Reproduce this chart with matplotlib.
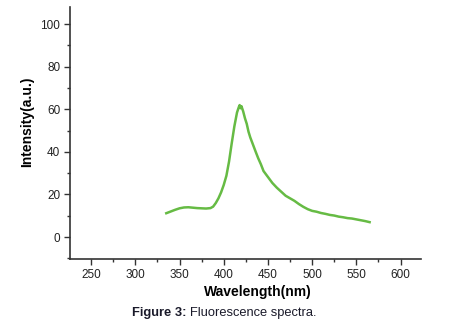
import matplotlib
matplotlib.use("Agg")
import matplotlib.pyplot as plt
from matplotlib.ticker import MultipleLocator

plt.rcParams['font.family'] = ['Liberation Sans', 'DejaVu Sans']

# emission spectrum, wavelength in nm
wavelength = [335, 340, 345, 350, 355, 360, 365, 370, 375, 380, 385, 388,
              391, 394, 397, 400, 403, 406, 409, 412, 415, 417, 418, 419,
              420, 422, 424, 426, 428, 430, 433, 436, 439, 442, 445, 450,
              455, 460, 465, 470, 475, 480, 485, 490, 495, 500, 505, 510,
              515, 520, 525, 530, 535, 540, 545, 550, 555, 560, 565]
intensity = [11.2, 12.0, 12.8, 13.5, 13.9, 14.0, 13.8, 13.6, 13.5, 13.4, 13.6, 14.3,
             16.0, 18.2, 21.0, 24.5, 28.8, 35.5, 44.0, 52.0, 58.5, 61.0, 62.0, 60.5,
             61.5, 59.0, 55.8, 53.2, 49.5, 46.8, 43.5, 40.2, 37.0, 34.2, 31.0, 28.2,
             25.4, 23.2, 21.3, 19.4, 18.2, 17.0, 15.5, 14.2, 13.1, 12.3, 11.9, 11.3,
             10.9, 10.4, 10.1, 9.6, 9.3, 8.9, 8.7, 8.3, 7.9, 7.5, 7.0]

xticks = [250, 300, 350, 400, 450, 500, 550, 600]
yticks = [0, 20, 40, 60, 80, 100]

fig = plt.figure(figsize=(4.57, 3.34), dpi=100)
ax = fig.add_axes([0.153, 0.2246, 0.768, 0.754])

ax.plot(wavelength, intensity, color="#66bb44", lw=1.8)

ax.set_xlim(226, 623)
ax.set_ylim(-10.3, 108)
ax.set_xticks(xticks)
ax.set_yticks(yticks)
ax.xaxis.set_minor_locator(MultipleLocator(25))
ax.yaxis.set_minor_locator(MultipleLocator(10))

for side in ("top", "right"):
    ax.spines[side].set_visible(False)
for side in ("left", "bottom"):
    ax.spines[side].set_color("#333333")
    ax.spines[side].set_linewidth(1.2)

ax.tick_params(which="major", length=4, width=1, color="#333333",
               labelsize=8.5, labelcolor="#222222", pad=3)
ax.tick_params(which="minor", length=2.5, width=1, color="#333333")

ax.set_xlabel("Wavelength(nm)", fontsize=10, fontweight="bold", va="center")
ax.set_ylabel("Intensity(a.u.)", fontsize=10, fontweight="bold", va="center")
ax.xaxis.set_label_coords(0.536, -0.131)
ax.yaxis.set_label_coords(-0.1225, 0.544)

# caption: bold prefix followed by regular text
t1 = fig.text(0.289, 0.063, "Figure 3:", fontsize=9.3, fontweight="bold",
              color="#1a1a2a", ha="left", va="center")
fig.canvas.draw()
bb = t1.get_window_extent()
x2 = (bb.x1 + 3) / fig.bbox.width
fig.text(x2, 0.063, "Fluorescence spectra.", fontsize=9.3,
         color="#1a1a2a", ha="left", va="center")

fig.savefig("out.png", dpi=100)
